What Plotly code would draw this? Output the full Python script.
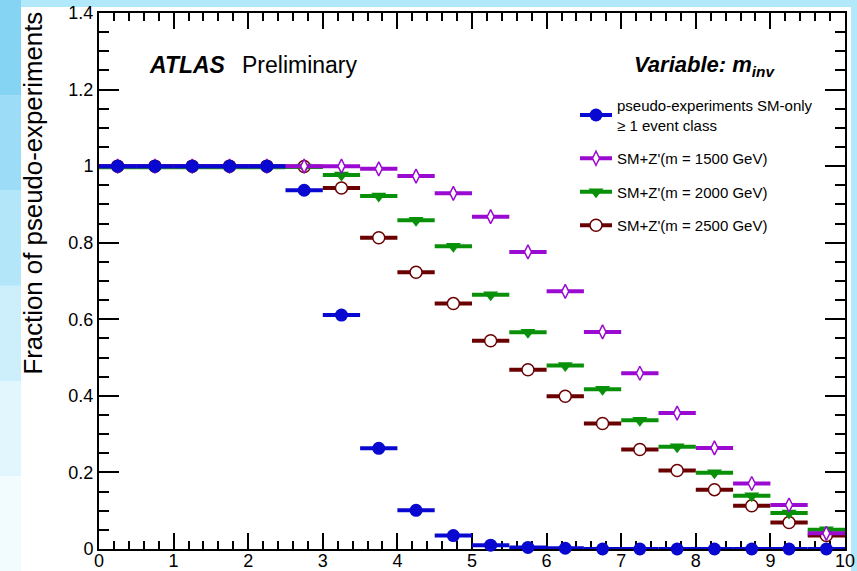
import plotly.graph_objects as go

# ---------------- data ----------------
bin_centers = [0.25, 0.75, 1.25, 1.75, 2.25, 2.75, 3.25, 3.75, 4.25, 4.75,
               5.25, 5.75, 6.25, 6.75, 7.25, 7.75, 8.25, 8.75, 9.25, 9.75]
bin_half_width = [0.25] * 20

sm_only = [1.0, 1.0, 1.0, 1.0, 1.0, 0.937, 0.611, 0.263, 0.101, 0.035,
           0.010, 0.004, 0.002, 0.0, 0.0, 0.0, 0.0, 0.0, 0.0, 0.0]
zp_1500 = [1.0, 1.0, 1.0, 1.0, 1.0, 1.0, 1.0, 0.993, 0.974, 0.929,
           0.868, 0.776, 0.673, 0.567, 0.459, 0.355, 0.264, 0.171, 0.115, 0.041]
zp_2000 = [0.997, 0.997, 0.997, 0.997, 0.997, 0.998, 0.977, 0.922, 0.859, 0.791,
           0.664, 0.566, 0.479, 0.417, 0.336, 0.267, 0.199, 0.139, 0.094, 0.050]
zp_2500 = [1.0, 1.0, 1.0, 1.0, 1.0, 0.999, 0.943, 0.813, 0.723, 0.641,
           0.544, 0.468, 0.399, 0.328, 0.260, 0.205, 0.155, 0.113, 0.069, 0.035]

x_ticks = list(range(0, 11))
y_ticks = [0, 0.2, 0.4, 0.6, 0.8, 1.0, 1.2, 1.4]

names = ["pseudo-experiments SM-only<br>≥ 1 event class",
         "SM+Z'(m = 1500 GeV)", "SM+Z'(m = 2000 GeV)", "SM+Z'(m = 2500 GeV)"]

# ---------------- styles ----------------
FONT = "Liberation Sans, Arial, Helvetica, sans-serif"
BLUE = "#0808d0"
PURPLE = "#9a0ad0"
GREEN = "#089008"
MAROON = "#6a0000"

styles = {
    "sm": dict(color=BLUE, symbol="circle", size=13, fill=BLUE, lw=0),
    "1500": dict(color=PURPLE, symbol="diamond-tall", size=10, fill="white", lw=1.5),
    "2000": dict(color=GREEN, symbol="triangle-down", size=13, fill=GREEN, lw=0),
    "2500": dict(color=MAROON, symbol="circle", size=12, fill="white", lw=1.5),
}

fig = go.Figure()

series = [("2500", zp_2500), ("2000", zp_2000), ("1500", zp_1500), ("sm", sm_only)]
for key, vals in series:
    s = styles[key]
    fig.add_trace(go.Scatter(
        x=bin_centers, y=vals, mode="markers", showlegend=False,
        cliponaxis=False,
        marker=dict(symbol=s["symbol"], size=s["size"], color=s["fill"],
                    line=dict(color=s["color"], width=s["lw"])),
        error_x=dict(type="data", array=bin_half_width, visible=True,
                     color=s["color"], thickness=4, width=0),
    ))

# legend entries (line + marker like ROOT "lp")
for i, (key, name) in enumerate(zip(["sm", "1500", "2000", "2500"], names)):
    s = styles[key]
    fig.add_trace(go.Scatter(
        x=[None], y=[None], mode="lines+markers", name=name,
        legendgroup=f"g{i}",
        line=dict(color=s["color"], width=4),
        marker=dict(symbol=s["symbol"], size=s["size"], color=s["fill"],
                    line=dict(color=s["color"], width=s["lw"])),
    ))

# ---------------- background (slide frame) ----------------
L, R, T, B = 99, 12, 13, 22
W, H = 857, 571
pw, ph = W - L - R, H - T - B


def px_x(p):
    return (p - L) / pw


def px_y(p):
    return (H - B - p) / ph


shapes = []
# left strip gradient approximation
grad = ["#86d4f3", "#9cdcf6", "#b4e6f9", "#cdeefb", "#e2f6fd", "#f2fbfe"]
for k, c in enumerate(grad):
    y0 = k * H / len(grad)
    y1 = (k + 1) * H / len(grad)
    shapes.append(dict(type="rect", xref="paper", yref="paper", layer="below",
                       x0=px_x(-2), x1=px_x(21), y0=px_y(y1), y1=px_y(y0),
                       fillcolor=c, line=dict(width=0)))
# white page
shapes.append(dict(type="rect", xref="paper", yref="paper", layer="below",
                   x0=px_x(21), x1=px_x(851), y0=px_y(H + 5), y1=px_y(7),
                   fillcolor="white", line=dict(width=0)))

annotations = [
    dict(text="<b><i>ATLAS</i></b>", x=px_x(147), y=px_y(65), xref="paper", yref="paper",
         xanchor="left", yanchor="middle", showarrow=False,
         font=dict(family=FONT, size=23, color="black")),
    dict(text="Preliminary", x=px_x(240), y=px_y(65), xref="paper", yref="paper",
         xanchor="left", yanchor="middle", showarrow=False,
         font=dict(family=FONT, size=23, color="black")),
    dict(text="<b><i>Variable: m<sub>inv</sub></i></b>", x=px_x(777), y=px_y(66),
         xref="paper", yref="paper", xanchor="right", yanchor="middle", showarrow=False,
         font=dict(family=FONT, size=22, color="black")),
    dict(text="Fraction of pseudo-experiments", x=px_x(33), y=px_y(10),
         xref="paper", yref="paper", xanchor="center", yanchor="top", textangle=-90,
         showarrow=False, font=dict(family=FONT, size=25.8, color="black")),
]

axis_common = dict(
    showgrid=False, zeroline=False, showline=True, linecolor="black", linewidth=2,
    ticks="inside", tickcolor="black", tickwidth=1.5, mirror="ticks",
    tickfont=dict(family=FONT, size=18, color="black"), layer="below traces",
    automargin=False,
)

fig.update_layout(
    width=W, height=H,
    margin=dict(l=L, r=R, t=T, b=B, autoexpand=False),
    paper_bgcolor="#b2e9fa", plot_bgcolor="white",
    font=dict(family=FONT, color="black"),
    xaxis=dict(range=[0, 10], tickvals=x_ticks, ticklen=16, ticklabelstandoff=-6,
               minor=dict(dtick=0.2, ticklen=8, ticks="inside", tickcolor="black", tickwidth=1.5),
               **axis_common),
    yaxis=dict(range=[0, 1.4], tickvals=y_ticks, ticklen=20,
               minor=dict(dtick=0.05, ticklen=10, ticks="inside", tickcolor="black", tickwidth=1.5),
               **axis_common),
    legend=dict(x=px_x(575), y=px_y(89), xanchor="left", yanchor="top",
                bgcolor="rgba(0,0,0,0)", font=dict(family=FONT, size=15, color="black"),
                traceorder="grouped", tracegroupgap=11, itemwidth=32),
    shapes=shapes,
    annotations=annotations,
)

fig.write_html("out.html", config={"displayModeBar": False},
               post_script="document.body.style.margin='0px';document.body.style.overflow='hidden';")
